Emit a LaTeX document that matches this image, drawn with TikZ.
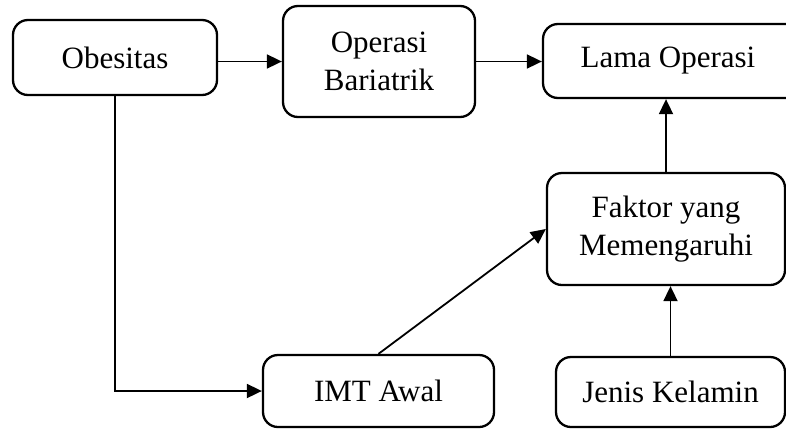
\documentclass[tikz,border=0pt]{standalone}
\usepackage{fontspec}
\setmainfont{Liberation Serif}
\usetikzlibrary{arrows.meta}
\begin{document}
\begin{tikzpicture}[x=1pt,y=-1pt,
  box/.style={draw,line width=2.3pt,rounded corners=15pt,align=center,inner sep=0pt,font=\fontsize{31}{38}\selectfont},
  arr/.style={line width=1.8pt,-{Triangle[length=15pt,width=14pt]}}]
\clip (0,0) rectangle (786,429);
\useasboundingbox (0,0) rectangle (786,429);
\node[box,minimum width=204pt,minimum height=75pt] (obes) at (115,57.5) {Obesitas};
\node[box,minimum width=192pt,minimum height=111pt] (oper) at (379,61.5) {Operasi\\Bariatrik};
\node[box,minimum width=262pt,minimum height=74pt] (lama) at (674,61) {\hspace*{-12pt}Lama Operasi};
\node[box,minimum width=238pt,minimum height=112pt] (fakt) at (666,229) {Faktor yang\\Memengaruhi};
\node[box,minimum width=231pt,minimum height=72pt] (imt) at (378.5,391) {IMT Awal};
\node[box,minimum width=229pt,minimum height=70pt] (jen) at (670.5,392) {Jenis Kelamin};
\draw[arr] (oper.west -| obes.east) -- (oper.west);
\draw[arr] (oper.east) -- (oper.east -| lama.west);
\draw[arr] (obes.south) |- (imt.west);
\draw[arr] (imt.north) -- (fakt.west);
\draw[arr] (jen.north) -- (jen.north |- fakt.south);
\draw[arr] (fakt.north) -- (fakt.north |- lama.south);
\end{tikzpicture}
\end{document}
